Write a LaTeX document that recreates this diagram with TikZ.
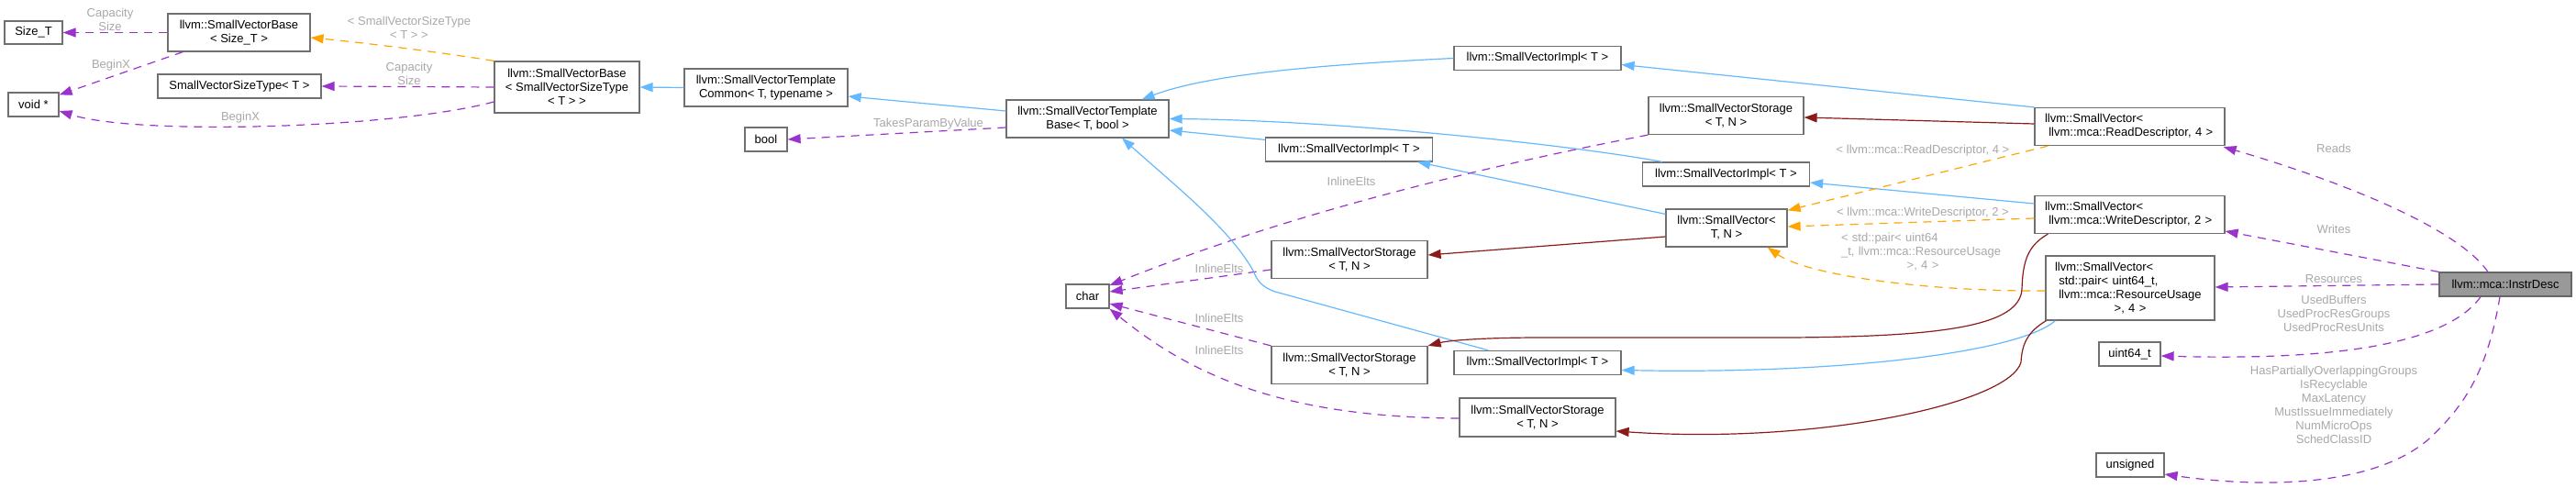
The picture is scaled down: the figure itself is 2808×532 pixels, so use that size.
\documentclass[tikz,border=0pt]{standalone}
\usepackage{fontspec}
\setmainfont{Liberation Sans}
\usetikzlibrary{arrows.meta,calc}
\definecolor{edgepurple}{HTML}{9A32CD}
\definecolor{edgeblue}{HTML}{63B8FF}
\definecolor{edgeorange}{HTML}{FFA500}
\definecolor{edgered}{HTML}{8B1A1A}
\definecolor{labelgray}{HTML}{A8A8A8}
\definecolor{boxborder}{HTML}{707070}
\definecolor{focusfill}{HTML}{999999}
\definecolor{focusborder}{HTML}{666666}
\begin{document}
\begin{tikzpicture}[x=1pt, y={(0pt,-1pt)},
  every node/.style={font=\fontsize{13}{15}\selectfont, inner sep=0pt},
  cbox/.style 2 args={draw=boxborder, line width=1.2pt, fill=white, align=center, minimum width=#1pt, minimum height=#2pt},
  lbl/.style={text=labelgray, align=center},
  tip/.style={-{Triangle[length=14pt,width=10pt]}},
  dep/.style={draw=edgepurple, line width=1.2pt, dash pattern=on 9pt off 7pt, tip},
  inh/.style={draw=edgeblue, line width=1.2pt, tip},
  tmpl/.style={draw=edgeorange, line width=1.2pt, dash pattern=on 9pt off 7pt, tip},
  comp/.style={draw=edgered, line width=1.2pt, tip}
]
\useasboundingbox (0,0) rectangle (2808,532);

% nodes
\node[cbox={63}{25}] (sizeT) at (36.5,35.5) {Size\_T};
\node[cbox={55}{26}] (voidp) at (36.5,114) {void *};
\node[cbox={155}{41}] (svbSize) at (260.5,35.5) {llvm::SmallVectorBase\\< Size\_T >};
\node[cbox={178}{26}] (svst) at (261,94) {SmallVectorSizeType< T >};
\node[cbox={158}{56}] (svbSVST) at (618,95) {llvm::SmallVectorBase\\< SmallVectorSizeType\\< T > >};
\node[cbox={178}{41}] (svtc) at (835,95.5) {llvm::SmallVectorTemplate\\Common< T, typename >};
\node[cbox={46}{26}] (bool) at (835,152) {bool};
\node[cbox={177}{41}] (svtb) at (1185.5,129.5) {llvm::SmallVectorTemplate\\Base< T, bool >};
\node[cbox={182}{26}] (implA) at (1676,63.5) {llvm::SmallVectorImpl< T >};
\node[cbox={182}{26}] (implB) at (1470.5,163) {llvm::SmallVectorImpl< T >};
\node[cbox={169}{41}] (storA) at (1881.5,126) {llvm::SmallVectorStorage\\< T, N >};
\node[cbox={182}{26}] (implC) at (1881.5,190) {llvm::SmallVectorImpl< T >};
\node[cbox={132}{41}] (svtn) at (1882,248.5) {llvm::SmallVector<\\T, N >};
\node[cbox={170}{41}] (storB) at (1471,283) {llvm::SmallVectorStorage\\< T, N >};
\node[cbox={47}{26}] (char) at (1185.5,323) {char};
\node[cbox={170}{41}] (storC) at (1471,398) {llvm::SmallVectorStorage\\< T, N >};
\node[cbox={182}{26}] (implD) at (1676,395.5) {llvm::SmallVectorImpl< T >};
\node[cbox={170}{42}] (storD) at (1676,455) {llvm::SmallVectorStorage\\< T, N >};
\node[cbox={207}{41}, align=left, text width=185pt] (readD) at (2321.5,138) {llvm::SmallVector<\\\ llvm::mca::ReadDescriptor, 4 >};
\node[cbox={207}{41}, align=left, text width=185pt] (writeD) at (2321.5,234) {llvm::SmallVector<\\\ llvm::mca::WriteDescriptor, 2 >};
\node[cbox={184}{70}, align=left, text width=164pt] (pairV) at (2322,314) {llvm::SmallVector<\\\ std::pair< uint64\_t,\\\ llvm::mca::ResourceUsage\\\hbox to 164pt{\hfil>, 4 >\hfil}};
\node[cbox={67}{26}] (uint64) at (2321.5,386) {uint64\_t};
\node[cbox={74}{26}] (unsigned) at (2322,507) {unsigned};
\node[cbox={144}{26}, fill=focusfill, draw=focusborder] (instr) at (2731,310) {llvm::mca::InstrDesc};

% edges
\draw[dep] (svbSize.west) -- (sizeT.east);
\draw[dep] ($(svbSize.south west)+(17,0)$) -- ($(voidp.north east)+(0,3)$);
\draw[tmpl] (svbSVST.north west) .. controls (480,57) and (400,47) .. ($(svbSize.east)+(0,5.5)$);
\draw[dep] (svbSVST.west) -- (svst.east);
\draw[dep] ($(svbSVST.west)+(0,16)$) .. controls (430,140) and (150,148) .. ($(voidp.east)+(0,7)$);
\draw[inh] (svtc.west) -- (svbSVST.east);
\draw[inh] ($(svtb.west)+(0,-8.5)$) -- ($(svtc.east)+(0,9.5)$);
\draw[dep] ($(svtb.west)+(0,9.5)$) -- (bool.east);
\draw[inh] (implA.west) .. controls (1450,70) and (1320,80) .. ($(svtb.north east)+(-30,0)$);
\draw[inh] (readD.north west) -- ($(implA.east)+(0,7)$);
\draw[comp] ($(readD.west)+(0,-3)$) -- ($(storA.east)+(0,2)$);
\draw[inh] ($(implB.north west)+(0,3)$) -- ($(svtb.east)+(0,12.5)$);
\draw[inh] ($(implC.north west)+(22,0)$) .. controls (1700,156) and (1450,131) .. (svtb.east);
\draw[inh] ($(writeD.west)+(0,-12)$) -- ($(implC.east)+(0,9)$);
\draw[inh] ($(svtn.north west)+(0,6)$) -- ($(implB.south east)+(-17,0)$);
\draw[comp] ($(svtn.west)+(0,9.5)$) -- ($(storB.east)+(0,-5)$);
\draw[tmpl] ($(readD.south west)+(15,0)$) -- ($(svtn.north east)+(0,2)$);
\draw[tmpl] ($(writeD.west)+(0,4)$) -- ($(svtn.east)+(0,-1.5)$);
\draw[tmpl] ($(pairV.west)+(0,3)$) .. controls (2100,318) and (1970,300) .. ($(svtn.south east)+(-22,0)$);
\draw[dep] ($(storB.west)+(0,11)$) -- ($(char.east)+(0,-5)$);
\draw[dep] (storA.south west) .. controls (1600,185) and (1400,235) .. ($(char.east)+(0,-12)$);
\draw[dep] (storC.north west) -- ($(char.east)+(0,8)$);
\draw[dep] ($(storD.west)+(0,1)$) .. controls (1400,455) and (1300,410) .. (char.south east);
\draw[inh] ($(implD.north west)+(38,0)$) -- (1390,318) .. controls (1375,313) and (1370,305) .. (1366,295) .. controls (1340,250) and (1290,210) .. ($(svtb.south)+(37.5,0)$);
\draw[inh] ($(pairV.south west)+(11,0)$) .. controls (2200,385) and (2000,408) .. ($(implD.east)+(0,8)$);
\draw[comp] ($(writeD.south west)+(15,0)$) .. controls (2210,268) and (2205,285) .. (2204,315) .. controls (2202,355) and (2120,367) .. (1950,368) -- (1680,368) .. controls (1620,368) and (1580,371) .. (storC.north east);
\draw[comp] ($(pairV.south west)+(1,0)$) .. controls (2210,362) and (2204,375) .. (2203,395) .. controls (2190,440) and (1980,485) .. ($(storD.east)+(0,15)$);
\draw[dep] ($(instr.north)+(-19,0)$) .. controls (2680,250) and (2560,200) .. ($(readD.south east)+(-2,1)$);
\draw[dep] (instr.north west) -- ($(writeD.east)+(0,18)$);
\draw[dep] (instr.west) -- ($(pairV.east)+(0,-1)$);
\draw[dep] ($(instr.south)+(-27,0)$) .. controls (2660,385) and (2500,392) .. ($(uint64.east)+(0,2)$);
\draw[dep] ($(instr.south)+(-6,0)$) .. controls (2712,400) and (2690,440) .. (2646,480) .. controls (2580,535) and (2450,530) .. ($(unsigned.east)+(0,10)$);

% edge labels
\node[lbl] (l1) at (120,21.5) {Capacity\\Size};
\node[lbl] (l2) at (121,71) {BeginX};
\node[lbl] (l3) at (446,30.5) {< SmallVectorSizeType\\< T > >};
\node[lbl] (l4) at (446,80.5) {Capacity\\Size};
\node[lbl] (l5) at (262,128) {BeginX};
\node[lbl] (l6) at (1012,135) {TakesParamByValue};
\node[lbl] (l7) at (1473,198) {InlineElts};
\node[lbl] (l8) at (1329,293) {InlineElts};
\node[lbl] (l9) at (1329,347) {InlineElts};
\node[lbl] (l10) at (1329,382) {InlineElts};
\node[lbl] (l11) at (2096,164) {< llvm::mca::ReadDescriptor, 4 >};
\node[lbl] (l12) at (2096,232) {< llvm::mca::WriteDescriptor, 2 >};
\node[lbl, align=left, text width=178pt] (l13) at (2096,274.5) {< std::pair< uint64\\\_t, llvm::mca::ResourceUsage\\\hbox to 178pt{\hfil>, 4 >\hfil}};
\node[lbl] (l14) at (2544,162) {Reads};
\node[lbl] (l15) at (2544,250) {Writes};
\node[lbl] (l16) at (2544,304) {Resources};
\node[lbl] (l17) at (2544,342) {UsedBuffers\\UsedProcResGroups\\UsedProcResUnits};
\node[lbl] (l18) at (2544,441.5) {HasPartiallyOverlappingGroups\\IsRecyclable\\MaxLatency\\MustIssueImmediately\\NumMicroOps\\SchedClassID};
\end{tikzpicture}
\end{document}
